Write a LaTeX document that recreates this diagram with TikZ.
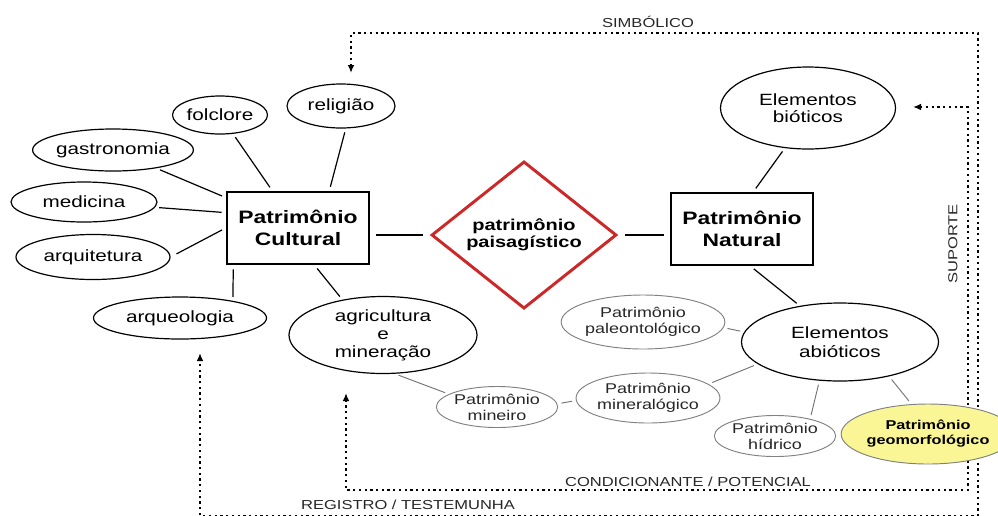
\documentclass[tikz,border=0pt]{standalone}
\usepackage{fontspec}
\setmainfont{Liberation Sans}[FakeStretch=1.27]
\usepackage{xcolor}
\usetikzlibrary{arrows.meta,shapes.geometric}

\newdimen\pxu \pxu=0.75pt
\definecolor{lozred}{RGB}{204,40,40}
\definecolor{geoyellow}{RGB}{250,246,150}

\begin{document}
\begin{tikzpicture}[x=0.75pt,y=-0.75pt,
  bigell/.style={draw,ellipse,line width=0.9pt,inner sep=0pt,align=center,
    font=\fontsize{12.2}{13.5}\selectfont},
  smallell/.style={draw=black!50,ellipse,line width=0.7pt,inner sep=0pt,align=center,
    text=black!85,font=\fontsize{10.6}{12}\selectfont},
  patbox/.style={draw,line width=2pt,inner sep=0pt,align=center,
    minimum width=142\pxu,minimum height=72\pxu,
    font=\bfseries\fontsize{13.5}{16.5}\selectfont},
  liga/.style={line width=0.9pt,shorten <=3pt,shorten >=3pt},
  ligafina/.style={draw=black!55,line width=0.7pt,shorten <=3pt,shorten >=3pt},
  fluxo/.style={line width=1.4pt,dash pattern=on 1.7pt off 2.6pt,
    {Latex[length=6pt,width=5pt]}-{Latex[length=6pt,width=5pt]}},
  fluxotxt/.style={inner sep=0pt,text=black!85,font=\fontsize{9.75}{11}\selectfont}]
  \useasboundingbox (0,0) rectangle (998,515);

  % setas pontilhadas
  \coordinate (simbA) at (351,73);
  \coordinate (simbB) at (200,353);
  \coordinate (supA) at (913,107);
  \coordinate (supB) at (346,393);
  \draw[fluxo] (simbA) -- (351,33) -- (978,33) -- (978,515.5) -- (200,515.5) -- (simbB);
  \draw[fluxo] (supA) -- (968,107) -- (968,490) -- (346,490) -- (supB);
  \node[fluxotxt] (simb) at (648,22) {SIMBÓLICO};
  \node[fluxotxt,rotate=90] (sup) at (953,244) {SUPORTE};
  \node[fluxotxt] (cond) at (688,482) {CONDICIONANTE / POTENCIAL};
  \node[fluxotxt] (reg) at (408,505) {REGISTRO / TESTEMUNHA};

  % patrimonio cultural
  \node[patbox] (PC) at (298,228) {Patrimônio\\Cultural};
  \node[bigell,minimum width=108\pxu,minimum height=44\pxu] (relig) at (341,106) {religião};
  \node[bigell,minimum width=95\pxu,minimum height=38\pxu] (folc) at (220,115) {folclore};
  \node[bigell,minimum width=146\pxu,minimum height=42\pxu] (gastro) at (113,150) {gastronomia};
  \node[bigell,minimum width=146\pxu,minimum height=40\pxu] (medic) at (84,202) {medicina};
  \node[bigell,minimum width=154\pxu,minimum height=45\pxu] (arquit) at (93,257) {arquitetura};
  \node[bigell,minimum width=173\pxu,minimum height=42\pxu] (arqueo) at (180,318) {arqueologia};
  \node[bigell,minimum width=188\pxu,minimum height=77\pxu] (agri) at (383,335) {agricultura\\e\\mineração};

  % paisagem
  \node[diamond,draw=lozred,line width=2.2pt,inner sep=0pt,align=center,
    minimum width=185\pxu,minimum height=145\pxu,
    font=\bfseries\fontsize{11.8}{12.5}\selectfont] (loz) at (524,235) {patrimônio\\paisagístico};

  % patrimonio natural
  \node[patbox] (PN) at (742,229) {Patrimônio\\Natural};
  \node[bigell,minimum width=175\pxu,minimum height=82\pxu,
    font=\fontsize{12.2}{13}\selectfont] (biot) at (808,108) {Elementos\\bióticos};
  \node[bigell,minimum width=197\pxu,minimum height=78\pxu,
    font=\fontsize{12.2}{14}\selectfont] (abiot) at (840,342) {Elementos\\abióticos};
  \node[smallell,minimum width=145\pxu,minimum height=54\pxu] (paleo) at (643,322) {Patrimônio\\paleontológico};
  \node[smallell,minimum width=143\pxu,minimum height=50\pxu] (mineral) at (648,398) {Patrimônio\\mineralógico};
  \node[smallell,minimum width=112\pxu,minimum height=41\pxu] (mineiro) at (497,407) {Patrimônio\\mineiro};
  \node[smallell,minimum width=108\pxu,minimum height=41\pxu] (hidr) at (775,436) {Patrimônio\\hídrico};
  \node[smallell,fill=geoyellow,text=black,minimum width=140\pxu,minimum height=60\pxu,
    font=\bfseries\fontsize{9.6}{11.3}\selectfont] (geo) at (928,434) {Patrimônio\\geomorfológico};

  % ligacoes
  \draw[liga] (folc) -- (PC);
  \draw[liga] (relig.-78) -- (PC.50);
  \draw[liga] (gastro) -- (PC);
  \draw[liga] (medic) -- (PC.168);
  \draw[liga,shorten <=5pt] (arquit.east) -- (PC.west);
  \draw[liga] (arqueo.18) -- (PC.210);
  \draw[liga] (agri.139) -- (PC.-66);
  \draw[liga,shorten <=4pt,shorten >=5pt] (PC.east |- loz.west) -- (loz.west);
  \draw[liga,shorten <=5pt,shorten >=4pt] (loz.east) -- (PN.west |- loz.east);
  \draw[liga] (PN.73) -- (biot.-120);
  \draw[liga] (PN.-77) -- (abiot.138);
  \draw[ligafina] (abiot.174) -- (paleo.-4);
  \draw[ligafina] (abiot.195) -- (mineral.13);
  \draw[ligafina] (mineral.182) -- (mineiro.3);
  \draw[ligafina] (mineiro.165) -- (agri.-73);
  \draw[ligafina] (abiot.-118) -- (hidr.26);
  \draw[ligafina] (abiot.-35) -- (geo.119);
\end{tikzpicture}
\end{document}
